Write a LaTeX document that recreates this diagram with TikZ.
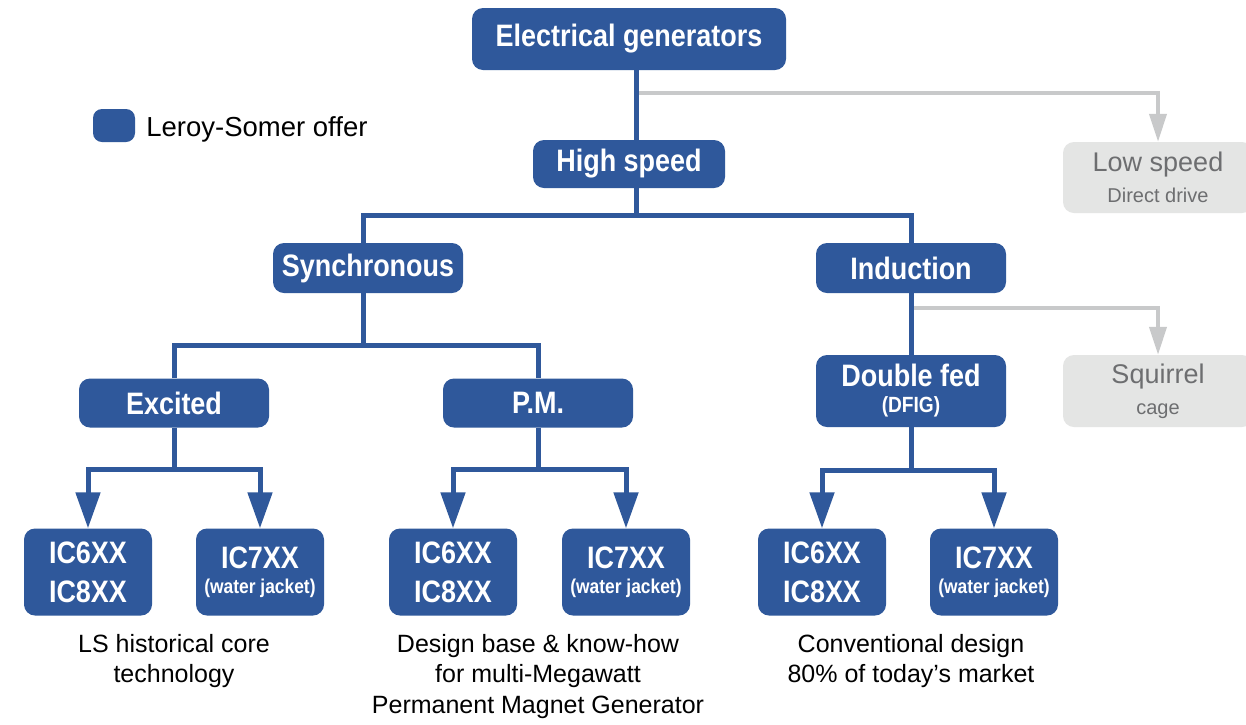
\documentclass[tikz,border=0pt]{standalone}
\usepackage{fontspec}
\setmainfont{Liberation Sans}
\newfontfamily\condfont[FakeStretch=0.87]{Liberation Sans}
\usetikzlibrary{positioning,arrows.meta}

\definecolor{lsblue}{RGB}{47,88,155}
\definecolor{offgray}{RGB}{228,229,228}
\definecolor{offtext}{RGB}{109,110,112}
\definecolor{offline}{RGB}{200,201,202}

\tikzset{
  main node/.style={fill=lsblue, text=white, rounded corners=11pt, inner sep=0pt,
    align=center, font=\condfont\bfseries\fontsize{31}{32}\selectfont},
  ic node/.style={main node, minimum width=128pt, minimum height=87pt},
  other node/.style={fill=offgray, text=offtext, rounded corners=11pt, inner sep=0pt,
    minimum width=190pt, minimum height=72pt, align=center, font=\fontsize{20}{24}\selectfont},
  note/.style={anchor=north, inner sep=0pt, align=center, font=\fontsize{25}{30.5}\selectfont},
  link/.style={draw=lsblue, line width=5pt},
  link arrow/.style={link, -{Triangle[length=36pt,width=24pt]}},
  other arrow/.style={draw=offline, line width=4pt, -{Triangle[length=28pt,width=17pt]}},
}

\begin{document}
\begin{tikzpicture}[x=1pt, y=1pt, on grid]
\fill[white] (0,0) rectangle (1246,-724);
\useasboundingbox (0,0) rectangle (1246,-724);

% legend
\node[main node, minimum width=42pt, minimum height=33pt, rounded corners=9pt] (legbox) at (114,-125.5) {};
\node[anchor=base west, inner sep=0pt, font=\fontsize{27.5}{30}\selectfont] (legtext)
  at ([xshift=11pt, yshift=-10.5pt]legbox.east) {Leroy-Somer offer};

% tree
\node[main node, minimum width=314pt, minimum height=62pt] (gen) at (629,-39) {Electrical generators};
\node[main node, minimum width=192pt, minimum height=48pt, below=125pt of gen] (high) {High speed};
\node[other node, minimum height=71pt, below right=13.5pt and 529pt of high] (low)
  {{\fontsize{27}{28}\selectfont Low speed}\\[7pt]Direct drive};

\node[main node, minimum width=190pt, minimum height=50pt, below left=104pt and 261pt of high] (sync) {Synchronous};
\node[main node, minimum width=190pt, minimum height=50pt, below right=104pt and 282pt of high] (ind) {Induction};

\node[main node, minimum width=190pt, minimum height=49pt, below left=135pt and 194pt of sync] (exc) {Excited};
\node[main node, minimum width=190pt, minimum height=49pt, below right=135pt and 170pt of sync] (pm) {P.M.};
\node[main node, minimum width=190pt, minimum height=72pt, below=123pt of ind] (dfig)
  {Double fed\\[-6pt]{\fontsize{22}{23}\selectfont (DFIG)}};
\node[other node, right=247pt of dfig] (squirrel)
  {{\fontsize{27}{28}\selectfont Squirrel}\\[7pt]cage};

\node[ic node, below left=169pt and 86pt of exc] (exc6) {IC6XX\\[7pt]IC8XX};
\node[ic node, below right=169pt and 86pt of exc] (exc7) {IC7XX\\[-7pt]{\fontsize{20}{21}\selectfont (water jacket)}};
\node[ic node, below left=169pt and 85pt of pm] (pm6) {IC6XX\\[7pt]IC8XX};
\node[ic node, below right=169pt and 88pt of pm] (pm7) {IC7XX\\[-7pt]{\fontsize{20}{21}\selectfont (water jacket)}};
\node[ic node, below left=181pt and 89pt of dfig] (dfig6) {IC6XX\\[7pt]IC8XX};
\node[ic node, below right=181pt and 83pt of dfig] (dfig7) {IC7XX\\[-7pt]{\fontsize{20}{21}\selectfont (water jacket)}};

% notes
\node[note] (excnote) at ([yshift=-18pt]exc6.south -| exc) {LS historical core\\technology};
\node[note] (pmnote) at ([yshift=-18pt]pm6.south -| pm) {Design base \& know-how\\for multi-Megawatt\\Permanent Magnet Generator};
\node[note] (dfignote) at ([yshift=-18pt]dfig6.south -| dfig) {Conventional design\\80\% of today’s market};

% connectors
\coordinate (lowfork) at ([shift={(7,-23)}]gen.south);
\coordinate (highfork) at ([yshift=-27pt]high.south);
\coordinate (syncfork) at ([shift={(-5,-52)}]sync.south);
\coordinate (sqfork) at ([yshift=-15pt]ind.south);
\coordinate (excfork) at ([yshift=-42pt]exc.south);
\coordinate (pmfork) at ([yshift=-42pt]pm.south);
\coordinate (dfigfork) at ([yshift=-43pt]dfig.south);

\draw[other arrow] (lowfork) -| (low.north);
\draw[other arrow] (sqfork) -| (squirrel.north);

\draw[link] ([xshift=7pt]gen.south) -- ([xshift=7pt]high.north);
\draw[link] ([xshift=7pt]high.south) -- ([xshift=7pt]highfork);
\draw[link] ([xshift=-5pt]sync.north) |- (highfork) -| (ind.north);
\draw[link] ([xshift=-5pt]sync.south) -- (syncfork);
\draw[link] (exc.north) |- (syncfork) -| (pm.north);
\draw[link] (ind.south) -- (dfig.north);

\draw[link] (exc.south) -- (excfork);
\draw[link arrow] (excfork) -| (exc6.north);
\draw[link arrow] (excfork) -| (exc7.north);
\draw[link] (pm.south) -- (pmfork);
\draw[link arrow] (pmfork) -| (pm6.north);
\draw[link arrow] (pmfork) -| (pm7.north);
\draw[link] (dfig.south) -- (dfigfork);
\draw[link arrow] (dfigfork) -| (dfig6.north);
\draw[link arrow] (dfigfork) -| (dfig7.north);
\end{tikzpicture}
\end{document}
